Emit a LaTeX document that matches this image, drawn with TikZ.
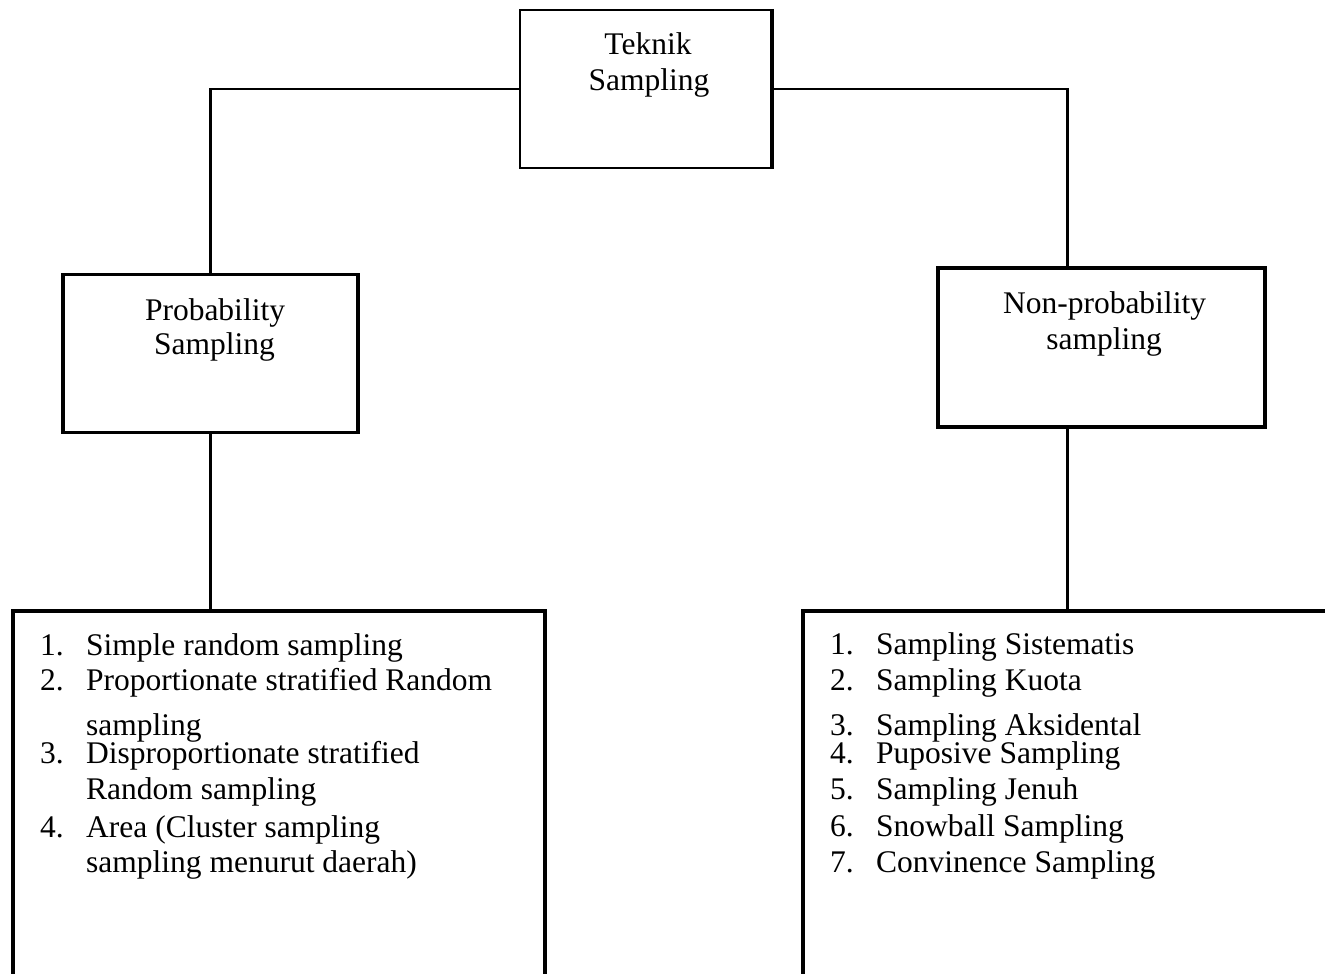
\documentclass[tikz,border=0pt]{standalone}
\usepackage{fontspec}
\setmainfont{Liberation Serif}
\begin{document}
\begin{tikzpicture}[x=1pt,y=-1pt,
  box/.style={draw, rectangle, line width=2.2pt, inner sep=0pt},
  heavyedge/.style={line width=3.6pt},
  link/.style={line width=2.2pt},
  heavylink/.style={line width=3.4pt},
  heading/.style={font=\fontsize{31.5}{36}\selectfont, inner sep=0pt, anchor=base},
  entry/.style={font=\fontsize{31.5}{36}\selectfont, inner sep=0pt, anchor=base west}]
\useasboundingbox (0,0) rectangle (1325,974);
\clip (0,0) rectangle (1325,974);

% boxes
\node[box, minimum width=251pt, minimum height=158pt] (top) at (645.5,89) {};
\node[box, minimum width=294pt, minimum height=158pt] (prob) at (210.5,353.5) {};
\node[box, line width=3.4pt, minimum width=327pt, minimum height=159pt] (nonprob) at (1101.5,347.5) {};
\node[box, line width=3.4pt, minimum width=532pt, minimum height=390pt] (leftlist) at (279,806) {};
\node[box, line width=3.4pt, minimum width=542pt, minimum height=390pt] (rightlist) at (1074,806) {};

% heavier side edges
\draw[heavyedge] (top.north east) -- (top.south east);
\draw[heavyedge] (prob.north west) -- (prob.south west);
\draw[heavyedge] (prob.north east) -- (prob.south east);

% connectors
\coordinate (rdrop) at ([xshift=-34pt]nonprob.north);
\coordinate (rbase) at ([xshift=-34pt]nonprob.south);
\draw[link] (top.west) -| (prob.north);
\draw[link] (top.east) -| (rdrop);
\draw[link] (prob.south) -- (prob.south |- leftlist.north);
\draw[heavylink] (rbase) -- (rbase |- rightlist.north);

% box titles
\node[heading] (t1) at (648,55) {Teknik};
\node[heading] (t2) at (649,90) {Sampling};
\node[heading] (p1) at (215,320) {Probability};
\node[heading] (p2) at (214.5,354) {Sampling};
\node[heading] (n1) at (1104.5,313) {Non-probability};
\node[heading] (n2) at (1104,349) {sampling};

% probability techniques
\node[entry] (l1n) at (40,655) {1.};
\node[entry] (l1)  at (86,655) {Simple random sampling};
\node[entry] (l2n) at (40,690) {2.};
\node[entry] (l2)  at (86,690) {Proportionate stratified Random};
\node[entry] (l2b) at (86,735) {sampling};
\node[entry] (l3n) at (40,763) {3.};
\node[entry] (l3)  at (86,763) {Disproportionate stratified};
\node[entry] (l3b) at (86,799) {Random sampling};
\node[entry] (l4n) at (40,837) {4.};
\node[entry] (l4)  at (86,837) {Area (Cluster sampling};
\node[entry] (l4b) at (86,872) {sampling menurut daerah)};

% non-probability techniques
\node[entry] (r1n) at (830,654) {1.};
\node[entry] (r1)  at (876,654) {Sampling Sistematis};
\node[entry] (r2n) at (830,690) {2.};
\node[entry] (r2)  at (876,690) {Sampling Kuota};
\node[entry] (r3n) at (830,735) {3.};
\node[entry] (r3)  at (876,735) {Sampling Aksidental};
\node[entry] (r4n) at (830,763) {4.};
\node[entry] (r4)  at (876,763) {Puposive Sampling};
\node[entry] (r5n) at (830,799) {5.};
\node[entry] (r5)  at (876,799) {Sampling Jenuh};
\node[entry] (r6n) at (830,836) {6.};
\node[entry] (r6)  at (876,836) {Snowball Sampling};
\node[entry] (r7n) at (830,872) {7.};
\node[entry] (r7)  at (876,872) {Convinence Sampling};
\end{tikzpicture}
\end{document}
